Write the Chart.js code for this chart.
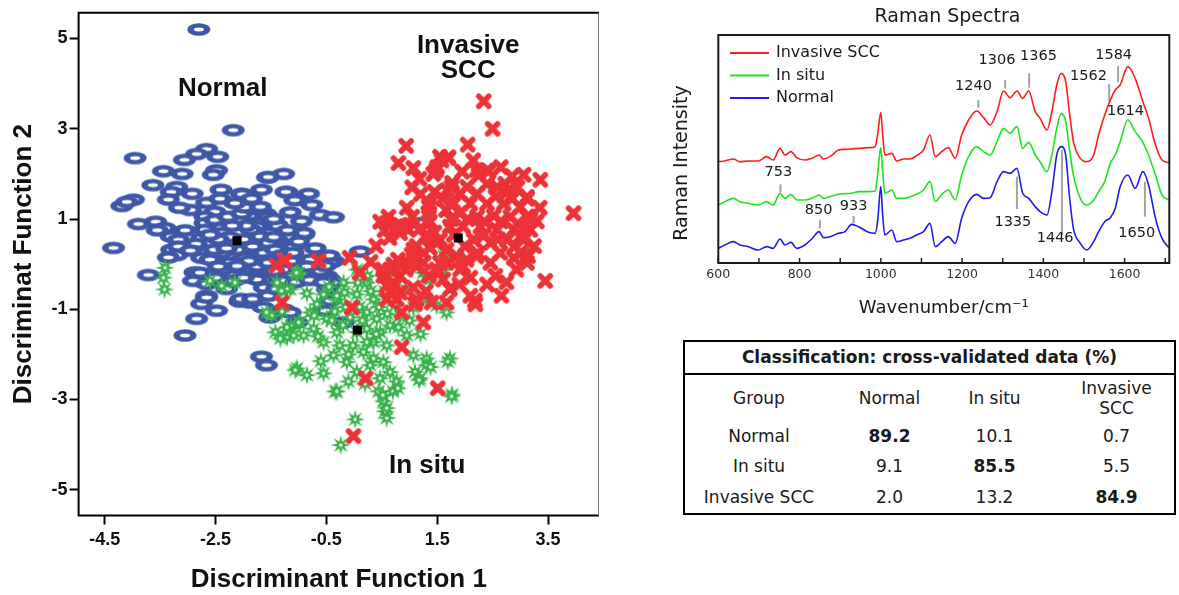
<!DOCTYPE html>
<html>
<head>
<meta charset="utf-8">
<script src="https://cdn.jsdelivr.net/npm/chart.js@4.4.0/dist/chart.umd.min.js"></script>
<style>
  html, body { margin: 0; padding: 0; background: #fff; }
  body { width: 1179px; height: 595px; position: relative; overflow: hidden; }
  #wrap-diskriminan { position: absolute; left: 0; top: 0; width: 612px; height: 595px; }
  #wrap-raman { position: absolute; left: 660px; top: 0; width: 519px; height: 330px; }
  #tabel-klasifikasi {
    position: absolute; left: 683px; top: 340px; width: 493px; height: 175px;
    border: 2px solid #000; box-sizing: border-box;
    font-family: "DejaVu Sans", Verdana, sans-serif; font-size: 17px; color: #1a1a1a;
  }
  #tabel-klasifikasi .judul {
    height: 31px; line-height: 31px; text-align: center; font-weight: bold;
    border-bottom: 2px solid #000;
  }
  #tabel-klasifikasi table { width: 489px; border-collapse: collapse; table-layout: fixed; }
  #tabel-klasifikasi td { padding: 0; text-align: center; height: 30px; line-height: 20px; }
  #tabel-klasifikasi tr.kepala td { height: 46px; }
  #tabel-klasifikasi tr:last-child td { height: 32px; }
  #tabel-klasifikasi td.kol4 { padding-left: 16px; }
  #tabel-klasifikasi td.tebal { font-weight: bold; }
</style>
</head>
<body>
<div id="wrap-diskriminan"><canvas id="grafik-diskriminan" width="612" height="595"></canvas></div>
<div id="wrap-raman"><canvas id="grafik-raman" width="519" height="330"></canvas></div>
<div id="tabel-klasifikasi"></div>

<script>
// ---- data analisis diskriminan (skor fungsi 1, skor fungsi 2) ----
const normalPts = [
  [-2.80,5.20],[-2.18,2.97],[-3.95,2.35],[-2.66,2.55],[-2.84,2.44],[-2.46,2.38],[-3.06,2.31],[-3.44,2.06],
  [-3.10,2.00],[-2.48,2.08],[-2.54,1.98],[-3.63,1.75],[-3.20,1.71],[-2.92,1.56],[-3.30,1.60],[-3.35,1.43],
  [-2.40,1.65],[-2.03,1.56],[-1.67,1.65],[-1.56,1.92],[-3.98,1.43],[-4.19,1.29],[-4.10,1.38],[-2.66,1.36],
  [-2.42,1.45],[-2.51,1.16],[-2.69,1.05],[-3.89,0.89],[-3.58,0.94],[-3.41,0.80],[-3.30,0.61],[-3.17,0.54],
  [-3.29,0.32],[-3.17,0.39],[-3.20,0.20],[-3.35,0.15],[-4.34,0.36],[-2.69,0.91],[-2.51,0.98],[-2.27,1.05],
  [-2.03,1.12],[-1.81,1.23],[-1.60,1.12],[-2.69,0.76],[-2.39,0.80],[-2.75,0.58],[-2.57,0.47],[-2.69,0.25],
  [-2.39,0.25],[-1.84,0.91],[-1.79,0.69],[-1.67,0.47],[-1.88,0.32],[-2.03,0.10],[-2.27,0.03],[-2.75,0.14],
  [-2.51,0.10],[-1.73,0.10],[-1.60,-0.12],[-1.90,-0.12],[-2.21,-0.19],[-3.71,-0.24],[-2.87,-0.18],[-1.67,-0.30],
  [-1.27,2.00],[-1.21,1.60],[-0.82,1.56],[-1.03,1.43],[-0.76,1.31],[-0.61,1.09],[-0.37,1.04],[-1.39,0.87],
  [-0.94,0.70],[-1.69,1.20],[-1.63,0.98],[-1.75,0.83],[-1.52,0.69],[-1.21,0.40],[-1.39,0.54],[-1.63,0.25],
  [-1.75,-0.05],[-0.58,0.10],[-0.37,0.07],[0.11,0.28],[-0.67,-0.19],[-0.49,-0.26],[-1.03,-0.08],[-1.51,0.10],
  [-2.60,0.10],[-1.97,0.14],[-2.78,-0.19],[-2.90,-0.37],[-2.66,-0.44],[-2.12,-0.08],[-1.93,-0.27],[-2.17,-0.37],
  [-1.64,-0.34],[-2.66,-0.70],[-2.75,-0.88],[-2.48,-1.03],[-2.84,-1.21],[-3.05,-1.58],[-2.06,-0.83],[-1.87,-0.85],
  [-1.64,-0.96],[-1.52,-1.18],[-1.67,-2.05],[-1.58,-2.24],[-1.27,-1.00],[-0.91,0.65],[-1.09,0.39],[-0.55,0.14],
  [-0.43,0.03],[-0.61,-0.15],[-0.43,-0.34],[-0.43,-0.81],[-0.52,-1.03],[-1.03,-1.29],[-0.19,-1.29],[-1.15,-1.07],
  [1.19,0.91],[-1.97,1.26],[-1.69,1.27],[-1.55,1.05],[-1.86,0.76],[-1.69,0.61],[-2.38,0.69],[-1.38,0.85],
  [-2.52,0.32],[-2.11,0.32],[-1.83,0.39],[-1.55,0.47],[-1.42,0.32],[-1.90,0.07],[-1.55,0.03],[-1.14,0.07],
  [-2.38,-0.12],[-2.11,-0.04],[-1.28,-0.12],[-1.76,-0.34],[-1.28,-0.37],[-1.62,-0.52],[-2.04,-0.77],[-1.83,-0.77],
  [-1.55,-0.70],[-2.66,-0.74],[-0.38,-0.41],[-0.48,-0.56],[-0.52,-0.04],[-0.79,0.10],[-0.45,0.19],[-0.90,0.69],
  [-1.07,1.42],[-1.23,1.60],[-1.55,1.93],[-2.02,1.55],
  [-2.25,0.60],[-2.00,0.55],[-1.95,0.85],[-2.20,0.85],[-2.45,0.55],[-2.30,0.35],[-1.45,0.60],[-1.30,0.20],
  [-1.10,0.25],[-1.00,0.50],[-1.20,0.75],[-1.45,1.00],[-1.15,1.15],[-0.95,0.95],[-2.15,1.35],[-1.85,1.45],
  [-2.60,0.65],[-2.85,0.45],[-2.95,0.30],[-2.45,-0.05],[-2.00,-0.30],[-1.45,-0.15],[-1.40,-0.55],[-2.30,-0.55],
  [-2.50,-0.30],[-1.05,-0.40],[-0.80,-0.35],[-0.70,0.35],[-0.85,-0.05],[-3.05,0.75],[-3.55,0.75],[-2.95,1.20],
  [-3.15,1.25],[-0.55,-0.40]
];
const inSituPts = [
  [-1.00,-0.19],[-1.15,-0.56],[-0.67,-0.89],[-0.55,-0.67],[-0.79,-1.07],[-0.97,-1.29],[-0.73,-1.43],[-0.49,-1.21],
  [-1.15,-1.43],[-0.91,-1.58],[-0.55,-1.73],[-0.31,-1.51],[-0.26,-1.80],[-0.37,-2.02],[-0.13,-2.17],[-1.03,-2.31],
  [-0.85,-2.46],[-0.55,-2.42],[-0.34,-2.82],[0.02,-3.44],[-0.24,-4.01],[0.05,-0.12],[0.23,-0.41],[0.05,-0.67],
  [0.35,-0.78],[0.23,-1.07],[0.41,-1.21],[0.23,-1.43],[0.47,-1.51],[0.65,-1.36],[0.35,-1.73],[0.59,-1.80],
  [0.17,-1.95],[0.29,-2.24],[0.53,-2.17],[0.65,-2.39],[0.47,-2.53],[0.44,-2.82],[0.53,-3.04],[0.56,-3.26],
  [0.70,-2.82],[0.77,-2.60],[1.07,-2.02],[1.10,-2.39],[1.31,-2.09],[1.19,-2.53],[1.73,-2.09],[1.77,-2.89],
  [1.31,-2.24],[0.95,-1.58],[0.83,-1.14],[1.07,-0.96],[1.31,-0.78],[1.37,-0.34],[1.61,-0.12],[1.25,-0.19],
  [1.49,-0.92],[1.67,-1.07],[-0.19,-0.41],[-0.31,-0.78],[-0.07,-1.18],[0.05,-1.51],[0.23,-1.73],[-0.02,-1.80],
  [0.35,-2.09],[0.05,-2.39],[-0.10,-2.60],[-3.42,-0.56],[0.59,-3.41],[0.59,-3.19],[0.52,-2.90],[0.79,-2.75],
  [1.76,-2.93],[1.69,-2.16],[1.17,-2.57],[1.38,-2.28],[-0.31,-2.82],[-1.42,-1.51],[-1.21,-1.62],[-1.00,-1.29],
  [-0.72,-1.14],[-1.49,-1.14],[-1.14,-1.36],[-3.41,-0.08],[-3.44,-0.30],[-2.60,-0.37],[-2.39,-0.48],[-2.15,-0.41],
  [-1.39,-0.41],[-1.21,-0.55],[-1.58,-1.07],[-1.21,-1.40],[-1.33,-1.65],[-1.09,-1.58],[-1.06,-2.35],[-1.03,-0.23],
  [-1.31,-0.59],[-1.04,-0.19],[0.07,-0.41],[0.24,-0.26],[0.59,-0.26],[0.93,-0.56],[1.31,-0.26],[1.62,0.18],
  [-0.31,-0.70],[-0.17,-0.63],
  [-0.35,-1.05],[-0.15,-0.95],[0.10,-0.95],[0.30,-0.60],[0.55,-0.60],[0.75,-0.90],[0.60,-1.10],[0.45,-0.95],
  [-0.20,-1.35],[0.15,-1.25],[0.40,-1.55],[-0.45,-0.50],[-0.85,-0.65],[-0.65,-1.60],[-0.10,-2.00],[0.80,-1.40],
  [1.00,-1.25],[1.20,-1.55],[-1.30,-1.05],[-0.40,-1.25],[0.20,-2.65],[-0.60,-2.15]
];
const invasivePts = [
  [2.34,3.61],[2.50,3.00],[2.05,2.65],[0.94,2.62],[0.80,2.24],[1.07,2.13],[1.18,1.89],[1.55,2.38],
  [1.70,2.35],[1.50,2.15],[1.43,2.00],[3.06,1.98],[3.36,1.87],[2.43,2.06],[2.25,1.97],[1.77,1.80],
  [1.68,1.64],[2.04,1.71],[2.58,1.71],[2.76,1.60],[3.12,1.45],[3.96,1.13],[1.36,1.34],[1.34,1.13],
  [1.66,1.20],[0.62,1.05],[0.47,0.94],[0.83,0.87],[0.64,0.58],[0.98,0.76],[1.37,0.94],[1.55,0.54],
  [1.37,0.36],[1.13,0.40],[1.04,0.21],[0.71,-0.01],[0.53,-0.26],[0.83,-0.26],[1.25,0.03],[1.49,-0.12],
  [1.61,-0.34],[1.91,-0.12],[2.03,0.10],[2.46,0.03],[2.55,-0.26],[2.88,0.14],[3.12,0.03],[3.45,-0.37],
  [1.91,1.56],[2.22,1.56],[2.40,1.78],[2.10,1.34],[2.40,1.34],[2.70,1.34],[3.00,1.27],[1.91,1.13],
  [2.22,1.05],[2.52,1.07],[2.82,1.05],[3.12,1.05],[1.97,0.83],[2.28,0.83],[2.58,0.76],[2.88,0.76],
  [3.18,0.76],[2.16,0.54],[2.46,0.47],[2.76,0.54],[3.06,0.54],[2.22,0.25],[2.64,0.25],[3.00,0.25],
  [1.73,0.83],[1.67,0.32],[1.85,0.18],[1.70,2.37],[2.40,2.08],[3.12,1.49],[3.18,0.98],[3.00,0.61],
  [-0.64,0.07],[-0.08,0.14],[0.10,-0.19],[0.65,-0.12],[0.59,-0.48],[0.71,-0.41],[0.83,-0.63],[1.07,-0.52],
  [1.13,-0.78],[1.40,-0.85],[1.67,-0.85],[1.73,-0.55],[1.52,-0.19],[2.10,-0.70],[2.19,-0.89],[-0.04,-0.96],
  [0.86,-1.07],[1.25,-1.29],[0.86,-1.84],[0.21,-2.53],[1.51,-2.75],[-0.01,-3.81],[1.49,0.47],[1.25,0.25],
  [1.67,0.03],[1.97,-0.05],[2.21,0.17],[1.13,-0.05],[0.77,-0.78],[0.59,-0.78],[-1.40,-0.03],[-1.25,0.08],
  [-1.30,-0.85],[0.59,0.91],[0.77,0.84],[0.83,0.69],[2.66,-0.70],[2.18,-0.81],[1.10,-0.88],[0.66,-0.59],
  [0.93,0.83],[1.07,0.32],[0.79,0.10],[1.28,0.61],[1.55,0.03],[1.35,-0.26],[0.93,-0.12],[0.52,-0.12],
  [0.73,-0.48],[1.48,2.08],[1.58,2.30],[2.21,2.08],[1.76,1.71],[1.35,1.27],[2.73,1.78],[3.14,1.05],
  [3.07,0.61],[3.14,0.18],[2.93,-0.12],
  [1.45,1.60],[1.60,1.45],[1.80,1.35],[2.55,1.50],[2.85,1.45],[2.95,1.70],[1.75,1.00],[2.05,1.00],
  [2.35,0.95],[2.65,0.95],[2.95,0.90],[1.80,0.65],[2.00,0.40],[2.35,0.65],[2.60,0.55],[2.90,0.40],
  [3.25,0.40],[1.45,0.70],[1.20,0.80],[1.05,1.05],[2.10,-0.30],[2.40,-0.45],[2.75,-0.40],[3.30,0.95],
  [3.35,1.25],[2.15,2.30],[1.95,2.05],[2.65,2.15],[2.85,1.95],[1.20,1.55],[1.05,1.70],[0.95,1.25],
  [0.55,0.75],[0.40,0.40],[0.30,0.05],[0.95,0.05],[1.30,-0.60],[1.90,-0.45]
];
const centroidPts = [[-2.11, 0.52], [0.06, -1.46], [1.88, 0.58]];
const xTickVals = [-4.5, -2.5, -0.5, 1.5, 3.5];
const yTickVals = [5, 3, 1, -1, -3, -5];

// ---- spektrum Raman rata-rata ----
const ramanWavenumber = [
  600,616,637,653,674,698,719,735,752,764, 779,793,813,830,848,859,875,896,912,928,
  945,970,986,992,1000,1004,1010,1027,1039,1056, 1072,1088,1105,1121,1134,1150,1166,1183,1199,1216,
  1236,1253,1269,1286,1302,1318,1335,1349,1364,1380, 1392,1409,1421,1433,1444,1455,1464,1474,1491,1507,
  1524,1536,1551,1565,1577,1589,1608,1626,1645,1659, 1676,1692,1710
];
const invasiveSpec = [
  304,306,312,304,306,306,319,309,344,324, 334,316,309,314,324,312,319,339,341,342,
  344,346,349,384,452,394,324,329,306,312, 312,322,339,384,319,334,346,314,384,429,
  456,436,414,454,516,496,516,494,516,454, 434,399,454,534,569,544,454,364,314,304,
  324,384,444,489,519,534,589,554,484,434, 354,309,301
];
const inSituSpec = [
  174,184,194,184,179,174,184,174,209,194, 206,189,189,194,204,194,199,206,208,209,
  214,214,216,264,346,284,209,219,194,194, 199,206,219,244,184,206,219,189,264,319,
  349,334,324,364,404,389,409,344,362,324, 304,274,324,404,449,424,344,264,194,174,
  189,214,244,299,324,364,429,394,362,324, 264,204,189
];
const normalSpec = [
  44,54,64,54,49,39,49,44,72,54, 62,44,54,72,94,76,79,89,94,116,
  109,92,89,124,229,154,84,99,64,69, 74,84,94,119,49,64,79,59,134,184,
  206,194,196,244,274,269,284,210,194,169, 154,144,214,324,349,324,204,104,59,39,
  64,94,124,136,164,229,264,224,274,234, 134,74,44
];
const peakLabels = ['753','850','933','1240','1306','1365','1335','1446','1562','1584','1614','1650'];
const peakWavenumber = [753, 850, 933, 1240, 1306, 1365, 1335, 1446, 1562, 1584, 1614, 1650];

// ---- klasifikasi validasi silang (%) ----
const kelompok = ['Normal', 'In situ', 'Invasive SCC'];
const prediksiNormal = [89.2, 9.1, 2.0];
const prediksiInSitu = [10.1, 85.5, 13.2];
const prediksiInvasive = [0.7, 5.5, 84.9];

// posisi garis penanda puncak dan teksnya (intensitas awal/akhir garis, posisi teks)
const peakLayout = [
  { line: [236, 212], text: [748, 272] },
  { line: [129, 104], text: [847, 159] },
  { line: [141, 119], text: [933, 171] },
  { line: [489, 466], text: [1228, 529] },
  { line: [549, 524], text: [1286, 609] },
  { line: [569, 526], text: [1388, 619] },
  { line: [259, 162], text: [1325, 122] },
  { line: [339, 84], text: [1429, 74] },
  { line: [536, 484], text: [1511, 559] },
  { line: [592, 542], text: [1573, 622] },
  { line: null, text: [1602, 454] },
  { line: [244, 139], text: [1630, 89] }
];
const groupLabelPos = [
  { lines: ['Normal'], x: -2.37, y: 3.89 },
  { lines: ['Invasive', 'SCC'], x: 2.06, y: 4.83 },
  { lines: ['In situ'], x: 1.32, y: -4.47 }
];

const FONT_ARIAL = '"Liberation Sans", Arial, sans-serif';
const FONT_VERDANA = '"DejaVu Sans", Verdana, sans-serif';

// ---- simbol titik ----
function buatCincin() {
  const c = document.createElement('canvas');
  c.width = 26; c.height = 15;
  const g = c.getContext('2d');
  g.fillStyle = '#3e58a7';
  g.beginPath(); g.ellipse(13, 7.5, 11.5, 6.3, 0, 0, Math.PI * 2); g.fill();
  g.fillStyle = '#ffffff';
  g.beginPath(); g.ellipse(13, 7.5, 5.0, 1.9, 0, 0, Math.PI * 2); g.fill();
  return c;
}
function buatSilang() {
  const c = document.createElement('canvas');
  c.width = 18; c.height = 18;
  const g = c.getContext('2d');
  g.strokeStyle = '#ec3237';
  g.lineWidth = 5.5;
  g.lineCap = 'round';
  g.beginPath();
  g.moveTo(4, 4); g.lineTo(14, 14);
  g.moveTo(14, 4); g.lineTo(4, 14);
  g.stroke();
  return c;
}
function buatBintang() {
  const c = document.createElement('canvas');
  c.width = 22; c.height = 22;
  const g = c.getContext('2d');
  const cx = 11, cy = 11, R = 10, r = 3.9, n = 8;
  g.fillStyle = '#37b34a';
  g.beginPath();
  for (let i = 0; i < n * 2; i++) {
    const ang = -Math.PI / 2 + i * Math.PI / n;
    const rad = i % 2 === 0 ? R : r;
    const px = cx + rad * Math.cos(ang), py = cy + rad * Math.sin(ang);
    if (i === 0) g.moveTo(px, py); else g.lineTo(px, py);
  }
  g.closePath(); g.fill();
  g.fillStyle = '#ffffff';
  g.beginPath(); g.arc(cx, cy, 1.7, 0, Math.PI * 2); g.fill();
  return c;
}

const toXY = p => ({ x: p[0], y: p[1] });

// bingkai plot sebar
const bingkaiKiri = {
  id: 'bingkaiKiri',
  beforeDatasetsDraw(chart) {
    const { ctx, chartArea: a } = chart;
    ctx.save();
    ctx.strokeStyle = '#000';
    ctx.lineWidth = 2;
    ctx.beginPath();
    ctx.moveTo(a.right, a.top);
    ctx.lineTo(a.left, a.top);
    ctx.lineTo(a.left, a.bottom);
    ctx.lineTo(a.right, a.bottom);
    ctx.stroke();
    ctx.strokeStyle = '#777';
    ctx.lineWidth = 1;
    ctx.beginPath();
    ctx.moveTo(a.right - 0.5, a.top);
    ctx.lineTo(a.right - 0.5, a.bottom);
    ctx.stroke();
    ctx.restore();
  }
};

// nama kelompok di dalam plot
const labelKelompok = {
  id: 'labelKelompok',
  afterDatasetsDraw(chart) {
    const { ctx, scales: { x, y } } = chart;
    ctx.save();
    ctx.font = 'bold 26px ' + FONT_ARIAL;
    ctx.fillStyle = '#111';
    ctx.textAlign = 'center';
    ctx.textBaseline = 'middle';
    groupLabelPos.forEach(g => {
      const px = x.getPixelForValue(g.x);
      const py = y.getPixelForValue(g.y);
      g.lines.forEach((t, i) => ctx.fillText(t, px, py + i * 25));
    });
    ctx.restore();
  }
};

new Chart(document.getElementById('grafik-diskriminan'), {
  type: 'scatter',
  data: {
    datasets: [
      { label: 'Centroid', data: centroidPts.map(toXY), pointStyle: 'rect', pointRadius: 6.4,
        backgroundColor: '#000', borderWidth: 0 },
      { label: 'Invasive SCC', data: invasivePts.map(toXY), pointStyle: buatSilang(), pointRadius: 8 },
      { label: 'In situ', data: inSituPts.map(toXY), pointStyle: buatBintang(), pointRadius: 9 },
      { label: 'Normal', data: normalPts.map(toXY), pointStyle: buatCincin(), pointRadius: 9 }
    ]
  },
  options: {
    responsive: false,
    animation: false,
    devicePixelRatio: 1,
    layout: { padding: { top: 7, right: 13, left: 0, bottom: 0 } },
    plugins: { legend: { display: false }, tooltip: { enabled: false } },
    scales: {
      x: {
        type: 'linear', min: -4.97, max: 4.42,
        afterBuildTicks: s => { s.ticks = xTickVals.map(v => ({ value: v })); },
        afterFit: s => { s.height = 79.5; },
        border: { display: false },
        grid: { drawOnChartArea: false, tickLength: 9, tickWidth: 2, tickColor: '#000' },
        ticks: { color: '#111', padding: 5, maxRotation: 0, autoSkip: false,
          font: { family: FONT_ARIAL, weight: 'bold', size: 18 },
          callback: v => String(v) },
        title: { display: true, text: 'Discriminant Function 1', color: '#111',
          font: { family: FONT_ARIAL, weight: 'bold', size: 26 }, padding: { top: 0, bottom: 0 } }
      },
      y: {
        type: 'linear', min: -5.57, max: 5.57,
        afterBuildTicks: s => { s.ticks = yTickVals.map(v => ({ value: v })); },
        afterFit: s => { s.width = 78.6; },
        border: { display: false },
        grid: { drawOnChartArea: false, tickLength: 9, tickWidth: 2, tickColor: '#000' },
        ticks: { color: '#111', padding: 2, autoSkip: false,
          font: { family: FONT_ARIAL, weight: 'bold', size: 18 },
          callback: v => String(v) },
        title: { display: true, text: 'Discriminat Function 2', color: '#111',
          font: { family: FONT_ARIAL, weight: 'bold', size: 26 }, padding: { top: 8, bottom: 0 } }
      }
    }
  },
  plugins: [bingkaiKiri, labelKelompok]
});

// ---- grafik spektrum ----
const hiasanRaman = {
  id: 'hiasanRaman',
  beforeDatasetsDraw(chart) {
    const { ctx, chartArea: a, scales: { x, y } } = chart;
    ctx.save();
    // garis penanda puncak
    ctx.strokeStyle = '#a3a3a3';
    ctx.lineWidth = 2;
    peakWavenumber.forEach((w, i) => {
      const L = peakLayout[i].line;
      if (!L) return;
      const px = x.getPixelForValue(w);
      ctx.beginPath();
      ctx.moveTo(px, y.getPixelForValue(L[0]));
      ctx.lineTo(px, y.getPixelForValue(L[1]));
      ctx.stroke();
    });
    // tanda skala ke dalam
    ctx.strokeStyle = '#222';
    ctx.lineWidth = 1.5;
    for (let w = 600; w <= 1700; w += 100) {
      const px = x.getPixelForValue(w);
      ctx.beginPath();
      ctx.moveTo(px, a.bottom);
      ctx.lineTo(px, a.bottom - 5);
      ctx.stroke();
    }
    ctx.restore();
  },
  afterDatasetsDraw(chart) {
    const { ctx, chartArea: a, scales: { x, y } } = chart;
    ctx.save();
    ctx.strokeStyle = '#1a1a1a';
    ctx.lineWidth = 2;
    ctx.strokeRect(a.left, a.top, a.right - a.left, a.bottom - a.top);

    ctx.fillStyle = '#1a1a1a';
    ctx.textAlign = 'center';
    ctx.textBaseline = 'middle';
    ctx.font = '14.5px ' + FONT_VERDANA;
    peakLabels.forEach((t, i) => {
      const T = peakLayout[i].text;
      ctx.fillText(t, x.getPixelForValue(T[0]), y.getPixelForValue(T[1]));
    });

    // legenda
    ctx.font = '16px ' + FONT_VERDANA;
    ctx.textAlign = 'left';
    chart.data.datasets.forEach((ds, i) => {
      const ly = 53 + i * 22.5;
      ctx.strokeStyle = ds.borderColor;
      ctx.lineWidth = 2;
      ctx.beginPath();
      ctx.moveTo(70, ly);
      ctx.lineTo(109, ly);
      ctx.stroke();
      ctx.fillText(ds.label, 116, ly);
    });

    // judul dan label sumbu y
    ctx.font = '19px ' + FONT_VERDANA;
    ctx.textAlign = 'center';
    ctx.fillText('Raman Spectra', 287.5, 17);
    ctx.translate(21.7, 163);
    ctx.rotate(-Math.PI / 2);
    ctx.fillText('Raman Intensity', 0, 0);
    ctx.restore();
  }
};

const seri = (vals) => ramanWavenumber.map((w, i) => ({ x: w, y: vals[i] }));

new Chart(document.getElementById('grafik-raman'), {
  type: 'line',
  data: {
    datasets: [
      { label: 'Invasive SCC', data: seri(invasiveSpec), borderColor: '#ff1c1c' },
      { label: 'In situ', data: seri(inSituSpec), borderColor: '#1ee41e' },
      { label: 'Normal', data: seri(normalSpec), borderColor: '#1c1cf0' }
    ]
  },
  options: {
    responsive: false,
    animation: false,
    devicePixelRatio: 1,
    layout: { padding: { top: 35, right: 9.7, left: 58.3, bottom: 0 } },
    elements: {
      line: { borderWidth: 1.6, cubicInterpolationMode: 'monotone', fill: false },
      point: { radius: 0 }
    },
    plugins: { legend: { display: false }, tooltip: { enabled: false } },
    scales: {
      x: {
        type: 'linear', min: 600, max: 1710,
        afterBuildTicks: s => { s.ticks = [600, 800, 1000, 1200, 1400, 1600].map(v => ({ value: v })); },
        afterFit: s => { s.height = 67; },
        border: { display: false },
        grid: { display: false, drawTicks: false },
        ticks: { color: '#333', padding: 4, maxRotation: 0, autoSkip: false,
          font: { family: FONT_VERDANA, size: 12.5 }, callback: v => String(v) },
        title: { display: true, text: 'Wavenumber/cm⁻¹', color: '#1a1a1a',
          font: { family: FONT_VERDANA, size: 18 }, padding: { top: 0, bottom: 11 } }
      },
      y: { type: 'linear', min: 0, max: 684, display: false }
    }
  },
  plugins: [hiasanRaman]
});

// ---- tabel klasifikasi ----
(function buatTabel() {
  const wadah = document.getElementById('tabel-klasifikasi');
  const fmt = v => v.toFixed(1);
  let html = '<div class="judul">Classification: cross-validated data (%)</div>';
  html += '<table><colgroup><col style="width:148px"><col style="width:113px"><col style="width:97px"><col style="width:131px"></colgroup>';
  html += '<tr class="kepala"><td>Group</td><td>Normal</td><td>In situ</td><td class="kol4">Invasive<br>SCC</td></tr>';
  kelompok.forEach((nama, i) => {
    const sel = [prediksiNormal[i], prediksiInSitu[i], prediksiInvasive[i]];
    html += '<tr><td>' + nama + '</td>';
    sel.forEach((v, j) => {
      const kelas = [j === i ? 'tebal' : '', j === 2 ? 'kol4' : ''].join(' ').trim();
      html += '<td class="' + kelas + '">' + fmt(v) + '</td>';
    });
    html += '</tr>';
  });
  html += '</table>';
  wadah.innerHTML = html;
})();
</script>
</body>
</html>
